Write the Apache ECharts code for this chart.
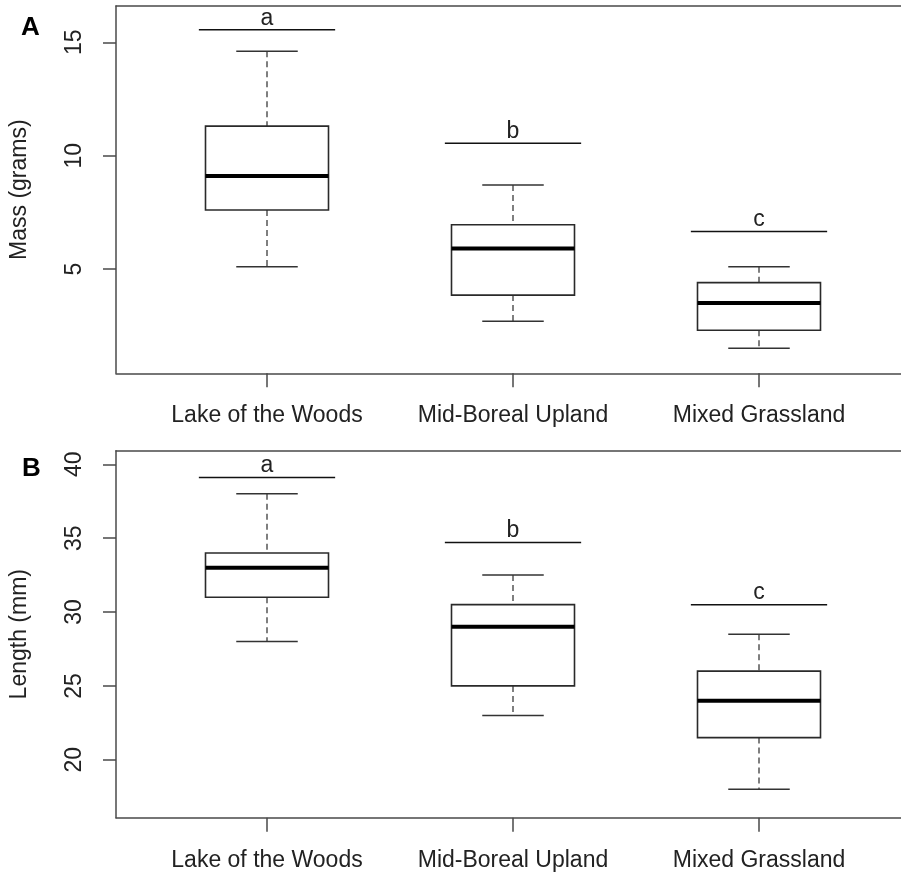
<!DOCTYPE html>
<html>
<head>
<meta charset="utf-8">
<script src="https://cdn.jsdelivr.net/npm/echarts@6/dist/echarts.min.js"></script>
<style>
  html, body { margin: 0; padding: 0; background: #fff; }
  #chart { width: 901px; height: 873px; }
</style>
</head>
<body>
<div id="chart"></div>
<script>
// sites on the x axis
const categories = ['Lake of the Woods', 'Mid-Boreal Upland', 'Mixed Grassland']

// box stats per site: [min, Q1, median, Q3, max]
const massStats = [
  [5.1, 7.6, 9.1, 11.3, 14.6],
  [2.7, 3.85, 5.9, 6.95, 8.7],
  [1.5, 2.3, 3.5, 4.4, 5.1]
]
const lengthStats = [
  [28, 31, 33, 34, 38],
  [23, 25, 29, 30.5, 32.5],
  [18, 21.5, 24, 26, 28.5]
]

// significance groups above each box
const groupLetters = ['a', 'b', 'c']
const massLetterY = [15.55, 10.55, 6.65]
const lengthLetterY = [39.1, 34.7, 30.5]

// y ticks
const massTicks = [5, 10, 15]
const lengthTicks = [20, 25, 30, 35, 40]

const FONT = '"Liberation Sans", Arial, sans-serif'
const INK = '#222'
const FRAME = '#4a4a4a'

const chart = echarts.init(document.getElementById('chart'))

function renderBox(params, api) {
  const c = api.value(0)
  const lo = api.coord([c, api.value(1)])
  const q1 = api.coord([c, api.value(2)])
  const md = api.coord([c, api.value(3)])
  const q3 = api.coord([c, api.value(4)])
  const hi = api.coord([c, api.value(5)])
  const band = api.size([1, 0])[0]
  const bw = band * 0.25
  const sw = band * 0.125
  const x = md[0]
  const whisker = { stroke: '#555', lineWidth: 1.5, lineDash: [6, 4] }
  const solid = { stroke: '#333', lineWidth: 1.5 }
  return {
    type: 'group',
    children: [
      { type: 'line', shape: { x1: x, y1: hi[1], x2: x, y2: q3[1] }, style: whisker },
      { type: 'line', shape: { x1: x, y1: q1[1], x2: x, y2: lo[1] }, style: whisker },
      { type: 'line', shape: { x1: x - sw, y1: hi[1], x2: x + sw, y2: hi[1] }, style: solid },
      { type: 'line', shape: { x1: x - sw, y1: lo[1], x2: x + sw, y2: lo[1] }, style: solid },
      { type: 'rect', shape: { x: x - bw, y: q3[1], width: bw * 2, height: q1[1] - q3[1] },
        style: { fill: '#fff', stroke: '#2a2a2a', lineWidth: 1.6 } },
      { type: 'line', shape: { x1: x - bw, y1: md[1], x2: x + bw, y2: md[1] },
        style: { stroke: '#000', lineWidth: 4 } }
    ]
  }
}

function renderSig(params, api) {
  const p = api.coord([api.value(0), api.value(1)])
  const half = api.size([1, 0])[0] * 0.277
  return {
    type: 'group',
    children: [
      { type: 'line', shape: { x1: p[0] - half, y1: p[1], x2: p[0] + half, y2: p[1] },
        style: { stroke: '#111', lineWidth: 1.5 } },
      { type: 'text', x: p[0], y: p[1] - 11.5,
        style: { text: groupLetters[params.dataIndex], fill: INK, font: '23px ' + FONT,
          align: 'center', verticalAlign: 'middle' } }
    ]
  }
}

const boxData = stats => stats.map((s, i) => [i].concat(s))
const sigData = ys => ys.map((y, i) => [i, y])

const panels = [
  { top: 6, height: 367.3, min: 0.4, max: 16.6, ticks: massTicks, name: 'Mass (grams)',
    stats: massStats, sig: massLetterY },
  { top: 450.7, height: 367, min: 16.08, max: 40.92, ticks: lengthTicks, name: 'Length (mm)',
    stats: lengthStats, sig: lengthLetterY }
]

const grid = []
const xAxis = []
const yAxis = []
const series = []

const frameLine = { show: true, lineStyle: { color: FRAME, width: 1.5 } }

panels.forEach((p, k) => {
  const fi = k * 2
  const bi = k * 2 + 1
  // frame grid: runs past the right edge of the picture, like the cropped original
  grid.push({ left: 115, width: 797, top: p.top, height: p.height })
  // box grid: spans the three category bands
  grid.push({ left: 144, right: 19, top: p.top, height: p.height })

  // bottom and top edges of the frame
  xAxis.push({ gridIndex: fi, type: 'value', min: 0, max: 1, position: 'bottom',
    axisLine: frameLine, axisTick: { show: false }, axisLabel: { show: false }, splitLine: { show: false } })
  xAxis.push({ gridIndex: fi, type: 'value', min: 0, max: 1, position: 'top',
    axisLine: frameLine, axisTick: { show: false }, axisLabel: { show: false }, splitLine: { show: false } })
  xAxis.push({
    gridIndex: bi, type: 'category', data: categories, boundaryGap: true,
    axisLine: { show: false },
    axisTick: { show: true, alignWithLabel: true, length: 14, lineStyle: { color: FRAME, width: 1.5 } },
    axisLabel: { color: INK, fontSize: 23, fontFamily: FONT, margin: 31, interval: 0 },
    splitLine: { show: false }
  })

  yAxis.push({
    gridIndex: fi, type: 'value', min: p.min, max: p.max,
    name: p.name, nameLocation: 'middle', nameGap: 85,
    nameTextStyle: { color: INK, fontSize: 23, fontFamily: FONT },
    axisLine: frameLine,
    axisTick: { show: true, length: 13, customValues: p.ticks, lineStyle: { color: FRAME, width: 1.5 } },
    axisLabel: { rotate: 90, margin: 30, color: INK, fontSize: 23, fontFamily: FONT, customValues: p.ticks },
    splitLine: { show: false }
  })
  yAxis.push({ gridIndex: bi, type: 'value', min: p.min, max: p.max, show: false, splitLine: { show: false } })

  const bx = k * 3 + 2
  series.push({
    type: 'custom', xAxisIndex: bx, yAxisIndex: bi,
    renderItem: renderBox, data: boxData(p.stats),
    encode: { x: 0, y: [1, 2, 3, 4, 5] }, silent: true
  })
  series.push({
    type: 'custom', xAxisIndex: bx, yAxisIndex: bi,
    renderItem: renderSig, data: sigData(p.sig),
    encode: { x: 0, y: 1 }, silent: true
  })
})

const option = {
  animation: false,
  backgroundColor: '#fff',
  textStyle: { fontFamily: FONT },
  title: [
    { text: 'A', left: 21, top: 15, padding: 0,
      textStyle: { fontSize: 26, fontWeight: 'bold', color: '#000', fontFamily: FONT } },
    { text: 'B', left: 22, top: 456, padding: 0,
      textStyle: { fontSize: 26, fontWeight: 'bold', color: '#000', fontFamily: FONT } }
  ],
  grid,
  xAxis,
  yAxis,
  series
}

chart.setOption(option)
window.addEventListener('resize', () => chart.resize())
</script>
</body>
</html>
